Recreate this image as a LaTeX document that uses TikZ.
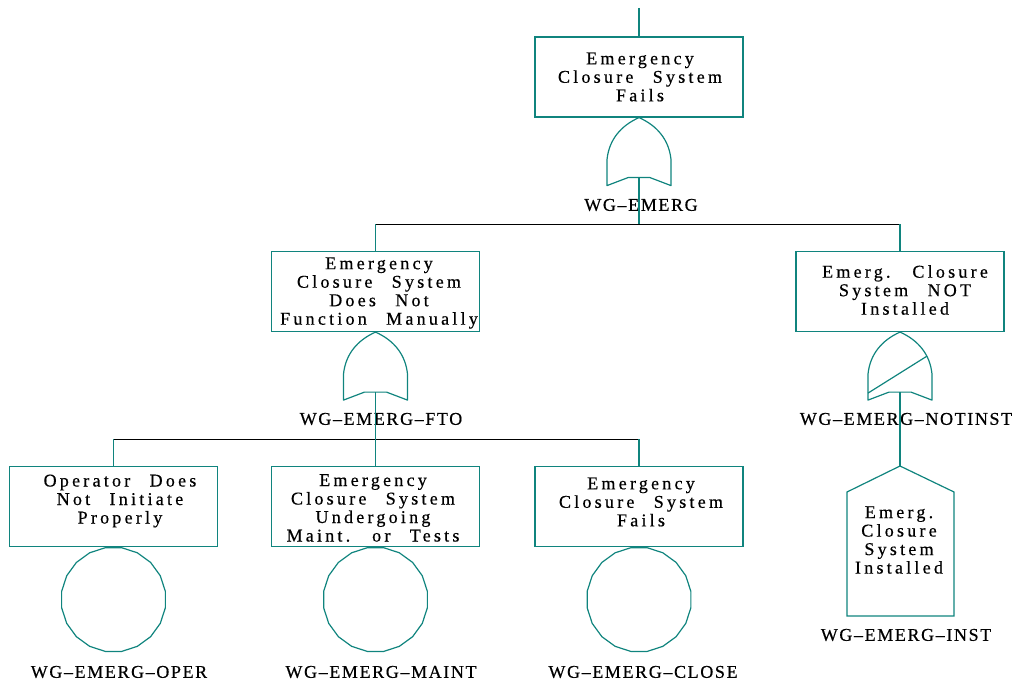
\documentclass[tikz,border=0pt]{standalone}
\usepackage{fontspec}
\usetikzlibrary{shapes.geometric}
% widely tracked serif faces for event texts and gate tags
\newfontfamily\boxfont{Liberation Serif}[LetterSpace=18,WordSpace=2.5,FakeBold=0.5]
\newfontfamily\tagfont{Liberation Serif}[LetterSpace=9,FakeBold=0.5]
\definecolor{ftteal}{RGB}{16,132,126}

\tikzset{
  box/.style={draw=ftteal, line width=1.2pt, minimum width=208pt, minimum height=80pt, inner sep=0pt},
  boxtext/.style={font=\boxfont\fontsize{18}{18.5}\selectfont, align=center, inner sep=0pt},
  tag/.style={font=\tagfont\fontsize{18}{20}\selectfont, inner sep=0pt},
  basic/.style={draw=ftteal, line width=1.2pt, regular polygon, regular polygon sides=20,
                minimum size=105pt, inner sep=0pt},
  tealline/.style={draw=ftteal, line width=1.2pt},
  busline/.style={draw=black, line width=0.8pt},
  gateline/.style={draw=ftteal, line width=1.2pt, line join=round},
  % OR gate, drawn from its apex downwards
  orgate/.pic={
    \path[gateline] (0,0) .. controls (-18,8) and (-30,22) .. (-32,42) -- (-32,68)
      -- (-11,60) -- (11,60) -- (32,68) -- (32,42) .. controls (30,22) and (18,8) .. cycle;
    \coordinate (-out) at (0,60);
  },
  % OR gate with a diagonal bar
  bargate/.pic={
    \path[gateline] (0,0) .. controls (-18,8) and (-30,22) .. (-32,42) -- (-32,68)
      -- (-11,60) -- (11,60) -- (32,68) -- (32,42) .. controls (30,22) and (18,8) .. cycle;
    \path[gateline] (-32,61) -- (27,24);
    \coordinate (-out) at (0,60);
  },
}

\begin{document}
\begin{tikzpicture}[x=1pt, y=-1pt]
\useasboundingbox (0,0) rectangle (1019,687);

% ---- top event
\node[box] (b1) at (639,77) {};
\node[boxtext] (b1t) at (640,77) {Emergency\\Closure System\\Fails};
\coordinate (root) at (639,8);
\draw[tealline] (root) -- (b1.north);
\pic (g1) at (b1.south) {orgate};
\node[tag] (g1tag) at (641,205) {WG–EMERG};

% ---- second level
\node[box] (b2) at (375.5,291.5) {};
\node[boxtext] (b2t) at (379,293) {Emergency\\Closure System\\Does Not\\Function Manually};
\node[box] (b3) at (900,291.5) {};
\node[boxtext] (b3t) at (905,290) {Emerg. Closure\\System NOT\\Installed};

\coordinate (bus1) at (639,224);
\draw[tealline] (g1-out) -- (bus1);
\draw[busline] (b2.north |- bus1) -- (b3.north |- bus1);
\draw[tealline] (b2.north |- bus1) -- (b2.north);
\draw[tealline] (b3.north |- bus1) -- (b3.north);

\pic (g2) at (b2.south) {orgate};
\node[tag] (g2tag) at (381,419) {WG–EMERG–FTO};
\pic (g3) at (b3.south) {bargate};
\node[tag] (g3tag) at (906,419) {WG–EMERG–NOTINST};

% ---- third level
\node[box] (b4) at (113.5,506.5) {};
\node[boxtext] (b4t) at (120,501) {Operator Does\\Not Initiate\\Properly};
\node[box] (b5) at (375.5,506.5) {};
\node[boxtext] (b5t) at (373,508) {Emergency\\Closure System\\Undergoing\\Maint. or Tests};
\node[box] (b6) at (639,506.5) {};
\node[boxtext] (b6t) at (641,502) {Emergency\\Closure System\\Fails};

\coordinate (bus2) at (375.5,439);
\draw[tealline] (g2-out) -- (bus2);
\draw[busline] (b4.north |- bus2) -- (b6.north |- bus2);
\draw[tealline] (b4.north |- bus2) -- (b4.north);
\draw[tealline] (b5.north |- bus2) -- (b5.north);
\draw[tealline] (b6.north |- bus2) -- (b6.north);

% ---- basic events
\node[basic, anchor=north] (e1) at (b4.south) {};
\node[basic, anchor=north] (e2) at (b5.south) {};
\node[basic, anchor=north] (e3) at (b6.south) {};
\node[tag] (e1tag) at (119,672) {WG–EMERG–OPER};
\node[tag] (e2tag) at (381,672) {WG–EMERG–MAINT};
\node[tag] (e3tag) at (643,672) {WG–EMERG–CLOSE};

% ---- house event
\coordinate (hs) at (900,466);
\draw[tealline, line join=miter] (hs) -- (954,492) -- (954,616) -- (847,616) -- (847,492) -- cycle;
\draw[tealline] (g3-out) -- (hs);
\node[boxtext] (hst) at (899,540) {Emerg.\\Closure\\System\\Installed};
\node[tag] (hstag) at (906,635) {WG–EMERG–INST};
\end{tikzpicture}
\end{document}
